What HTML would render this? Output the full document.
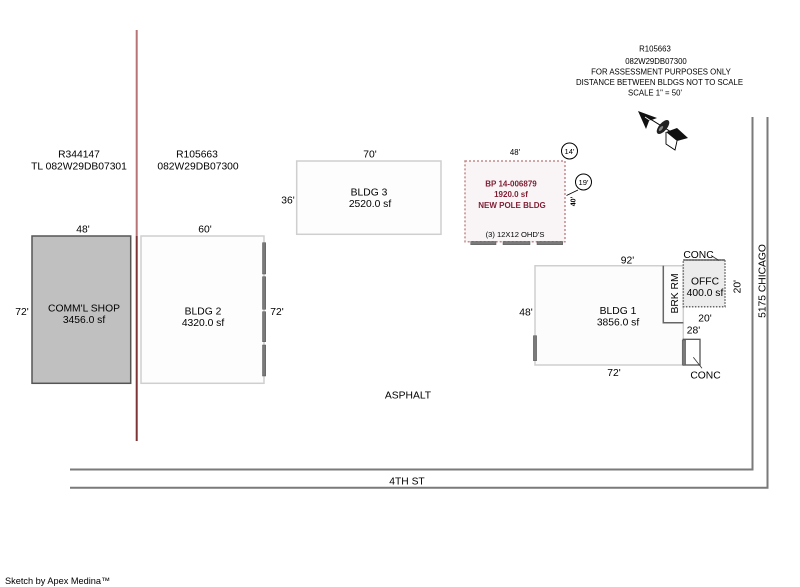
<!DOCTYPE html>
<html>
<head>
<meta charset="utf-8">
<style>
  html,body{margin:0;padding:0;background:#fff;}
  svg{display:block;}
  text{font-family:"Liberation Sans",Arial,sans-serif;fill:#000;}
</style>
</head>
<body>
<svg width="800" height="587" viewBox="0 0 800 587" xmlns="http://www.w3.org/2000/svg">
  <rect x="0" y="0" width="800" height="587" fill="#fff"/>

  <!-- property line -->
  <line x1="136.7" y1="30" x2="136.7" y2="236" stroke="#b87474" stroke-width="2"/>
  <line x1="136.7" y1="236" x2="136.7" y2="441" stroke="#7e3434" stroke-width="2"/>

  <!-- streets -->
  <polyline points="70,469.5 752.5,469.5 752.5,117" fill="none" stroke="#7a7a7a" stroke-width="2"/>
  <polyline points="70,487.8 767.5,487.8 767.5,117" fill="none" stroke="#7a7a7a" stroke-width="2"/>

  <!-- top note -->
  <g font-size="7.8" text-anchor="middle">
    <text x="655" y="51.5">R105663</text>
    <text x="656" y="64">082W29DB07300</text>
    <text x="661" y="74.5">FOR ASSESSMENT PURPOSES ONLY</text>
    <text x="659.5" y="85">DISTANCE BETWEEN BLDGS NOT TO SCALE</text>
    <text x="655" y="95.5">SCALE 1" = 50'</text>
  </g>

  <!-- compass -->
  <g>
    <line x1="639" y1="112" x2="676" y2="135" stroke="#000" stroke-width="1"/>
    <polygon points="638,111 657,118 649,121 646,129" fill="#111"/>
    <line x1="645" y1="117" x2="654" y2="123" stroke="#fff" stroke-width="0.8"/>
    <ellipse cx="663" cy="127" rx="8.5" ry="4" transform="rotate(-50 663 127)" fill="#222"/>
    <ellipse cx="661" cy="128.5" rx="3" ry="1.3" transform="rotate(-50 661 128.5)" fill="#888"/>
    <polygon points="666,132 677,128 688,138 677,141" fill="#111"/>
    <polyline points="666,132 666,144 675,150 677,141" fill="none" stroke="#000" stroke-width="0.9"/>
  </g>

  <!-- parcel labels -->
  <g font-size="10.3" text-anchor="middle">
    <text x="79" y="157.5">R344147</text>
    <text x="79" y="169.5">TL 082W29DB07301</text>
    <text x="197" y="157.5">R105663</text>
    <text x="198" y="169.5">082W29DB07300</text>
  </g>

  <!-- COMM'L SHOP -->
  <rect x="32" y="236" width="98.7" height="147.3" fill="#c0c0c0" stroke="#555" stroke-width="1.5"/>
  <g font-size="10.3" text-anchor="middle">
    <text x="83" y="232.5">48'</text>
    <text x="22" y="315">72'</text>
    <text x="84" y="311.5">COMM'L SHOP</text>
    <text x="84" y="323">3456.0 sf</text>
  </g>

  <!-- BLDG 2 -->
  <rect x="141" y="236" width="123" height="147.3" fill="#fdfdfd" stroke="#cfcfcf" stroke-width="1.5"/>
  <g fill="#7a7a7a" stroke="#555" stroke-width="0.5">
    <rect x="262.5" y="242.7" width="3.2" height="31.3"/>
    <rect x="262.5" y="276.7" width="3.2" height="32.6"/>
    <rect x="262.5" y="311.7" width="3.2" height="30"/>
    <rect x="262.5" y="345" width="3.2" height="31"/>
  </g>
  <g font-size="10.3" text-anchor="middle">
    <text x="205" y="232.5">60'</text>
    <text x="203" y="314.5">BLDG 2</text>
    <text x="203" y="326">4320.0 sf</text>
    <text x="277" y="315">72'</text>
  </g>

  <!-- BLDG 3 -->
  <rect x="296.7" y="161" width="144.3" height="73.3" fill="#fdfdfd" stroke="#cfcfcf" stroke-width="1.5"/>
  <g font-size="10.3" text-anchor="middle">
    <text x="370" y="157.5">70'</text>
    <text x="288" y="203.5">36'</text>
    <text x="369" y="195.5">BLDG 3</text>
    <text x="370" y="207">2520.0 sf</text>
  </g>

  <!-- NEW POLE BLDG -->
  <rect x="465" y="161" width="100" height="80.7" fill="#f9f5f7" stroke="#c48a8a" stroke-width="1.5" stroke-dasharray="2,2"/>
  <g fill="#7a7a7a" stroke="#555" stroke-width="0.5">
    <rect x="470.7" y="241.5" width="25.3" height="3.2"/>
    <rect x="503" y="241.5" width="27" height="3.2"/>
    <rect x="537" y="241.5" width="25.7" height="3.2"/>
  </g>
  <g font-size="8" font-weight="bold" text-anchor="middle">
    <text x="511" y="186.3" style="fill:#7f1d33">BP 14-006879</text>
    <text x="511" y="197" style="fill:#7f1d33">1920.0 sf</text>
    <text x="512" y="208" style="fill:#7f1d33">NEW POLE BLDG</text>
  </g>
  <text x="515" y="237" font-size="7.6" text-anchor="middle">(3) 12X12 OHD'S</text>
  <text x="515" y="155" font-size="7.8" text-anchor="middle">48'</text>
  <circle cx="569.5" cy="151" r="8" fill="#fff" stroke="#000" stroke-width="1"/>
  <text x="569.5" y="154" font-size="7.6" text-anchor="middle">14'</text>
  <line x1="578" y1="190" x2="566.5" y2="195.5" stroke="#000" stroke-width="0.8"/>
  <circle cx="583.5" cy="182" r="8" fill="#fff" stroke="#000" stroke-width="1"/>
  <text x="583.5" y="185" font-size="7.6" text-anchor="middle">19'</text>
  <text x="0" y="0" font-size="7" font-weight="bold" text-anchor="middle" transform="translate(575.5 201.5) rotate(-90)">40'</text>

  <!-- BLDG 1 -->
  <path d="M535,265.7 H683.3 V365 H535 Z" fill="#fcfcfc" stroke="#cfcfcf" stroke-width="1.5"/>
  <polyline points="663.3,265.7 663.3,322.7 683.3,322.7" fill="none" stroke="#666" stroke-width="1.5"/>
  <!-- OFFC -->
  <rect x="683.3" y="260" width="41.7" height="46.7" fill="#ececec" stroke="#666" stroke-width="1.5" stroke-dasharray="1.5,1.5"/>
  <line x1="683.3" y1="260" x2="725" y2="260" stroke="#666" stroke-width="1.5"/>
  <line x1="711" y1="255.5" x2="719" y2="260.5" stroke="#333" stroke-width="0.8"/>
  <!-- conc box -->
  <rect x="683.3" y="339.3" width="16.7" height="25.7" fill="#fff" stroke="#555" stroke-width="1.3"/>
  <rect x="682.2" y="340" width="3.4" height="25" fill="#7a7a7a" stroke="#555" stroke-width="0.5"/>
  <line x1="693.3" y1="357.3" x2="702" y2="368.3" stroke="#333" stroke-width="0.8"/>
  <!-- door left -->
  <rect x="533.4" y="335.7" width="3.2" height="25" fill="#7a7a7a" stroke="#555" stroke-width="0.5"/>

  <g font-size="10.3" text-anchor="middle">
    <text x="627.5" y="263.5">92'</text>
    <text x="526" y="315.5">48'</text>
    <text x="618" y="314">BLDG 1</text>
    <text x="618" y="325.5">3856.0 sf</text>
    <text x="614" y="376">72'</text>
    <text x="698.5" y="258">CONC</text>
    <text x="705" y="284.5">OFFC</text>
    <text x="705" y="296">400.0 sf</text>
    <text x="705" y="321.5">20'</text>
    <text x="693.5" y="333.5">28'</text>
    <text x="705.5" y="378.5">CONC</text>
    <text x="0" y="0" transform="translate(678 293.5) rotate(-90)">BRK RM</text>
    <text x="0" y="0" transform="translate(740.5 286.7) rotate(-90)">20'</text>
    <text x="0" y="0" transform="translate(765.3 281) rotate(-90)">5175 CHICAGO</text>
  </g>

  <!-- street labels -->
  <g font-size="10.3" text-anchor="middle">
    <text x="408" y="398.5">ASPHALT</text>
    <text x="407" y="484.5">4TH ST</text>
  </g>

  <text x="5" y="584" font-size="9.2">Sketch by Apex Medina™</text>
</svg>
</body>
</html>
